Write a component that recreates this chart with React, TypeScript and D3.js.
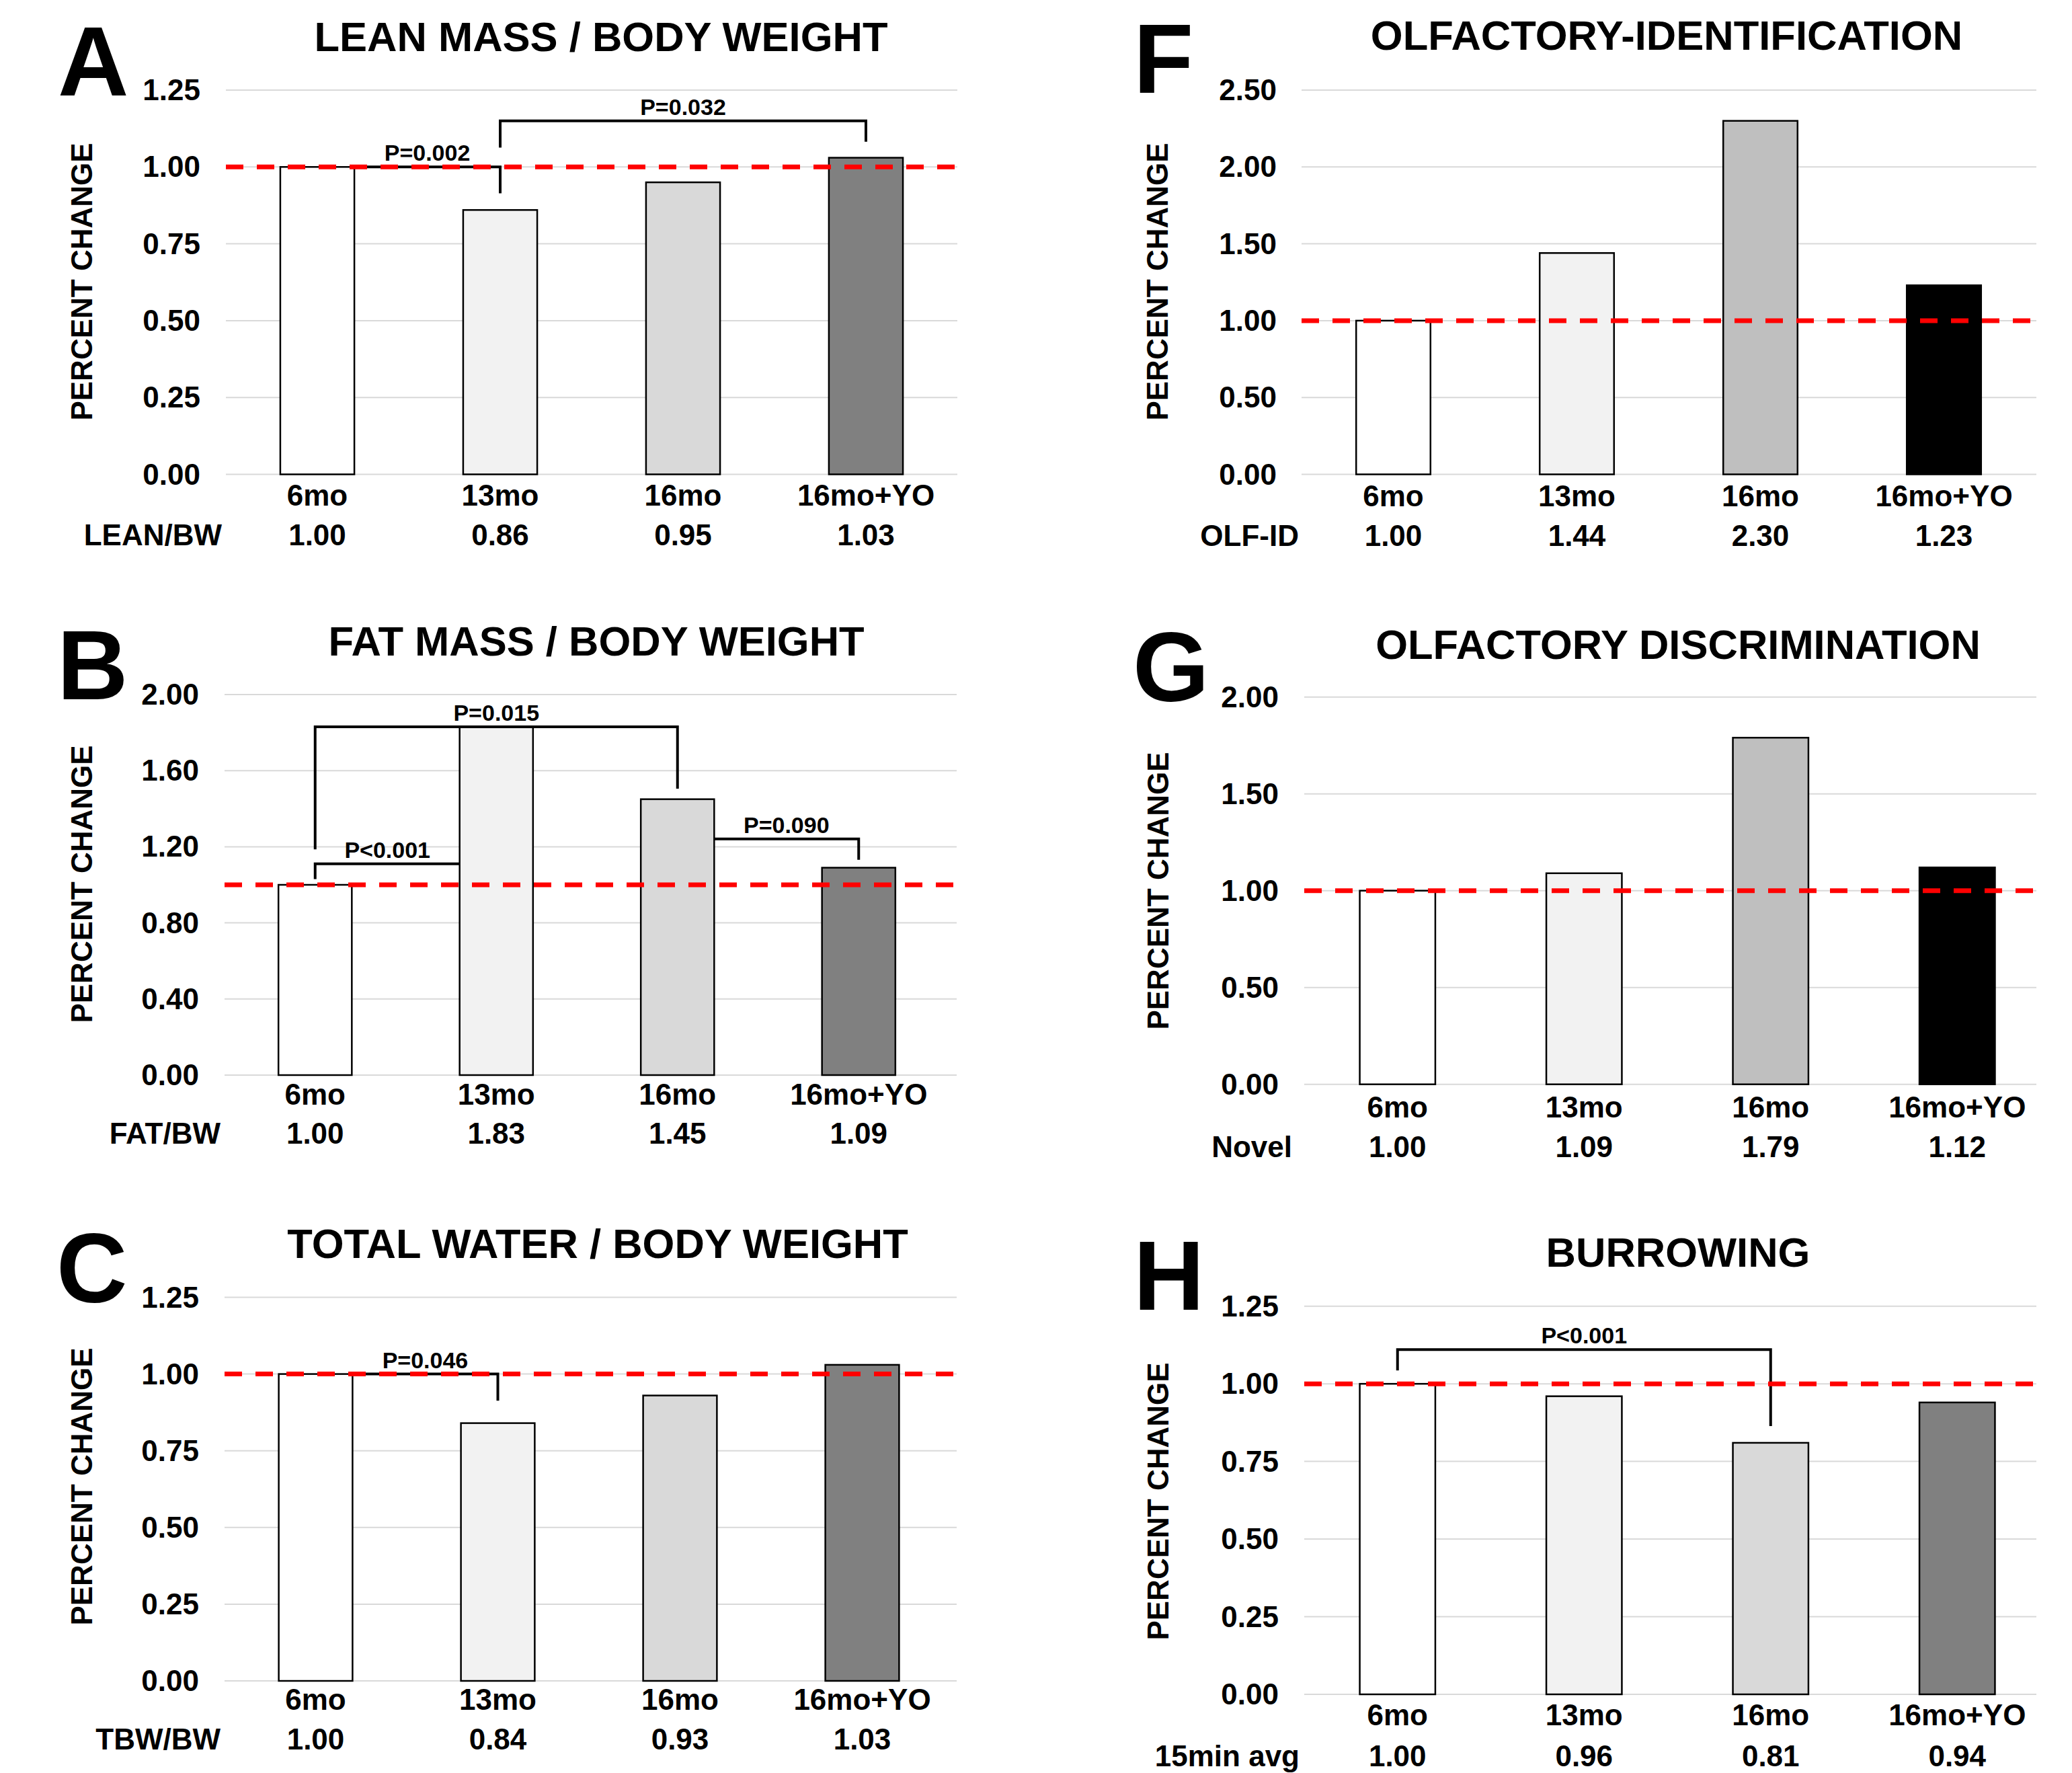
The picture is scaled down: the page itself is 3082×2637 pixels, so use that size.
import React from "react";
import * as d3 from "d3";

// groups and measured values (ratio to 6mo)
const groups = ["6mo", "13mo", "16mo", "16mo+YO"];
const leanBw = [1.0, 0.86, 0.95, 1.03];
const fatBw = [1.0, 1.83, 1.45, 1.09];
const tbwBw = [1.0, 0.84, 0.93, 1.03];
const olfId = [1.0, 1.44, 2.3, 1.23];
const novel = [1.0, 1.09, 1.79, 1.12];
const burrow = [1.0, 0.96, 0.81, 0.94];

const ticks125 = [0, 0.25, 0.5, 0.75, 1.0, 1.25];
const ticks200 = [0, 0.4, 0.8, 1.2, 1.6, 2.0];
const ticks250 = [0, 0.5, 1.0, 1.5, 2.0, 2.5];
const ticks200b = [0, 0.5, 1.0, 1.5, 2.0];

const bodyFills = ["#FFFFFF", "#F2F2F2", "#D9D9D9", "#808080"];
const olfFills = ["#FFFFFF", "#F2F2F2", "#BFBFBF", "#000000"];

// significance brackets: from/to = [group index, side], y = bar height, legs = where the legs end
const bracketsA = [
  { from: [0, "r"], to: [1, "c"], y: 1.0, legL: null, legR: 0.914, label: "P=0.002" },
  { from: [1, "c"], to: [3, "c"], y: 1.15, legL: 1.063, legR: 1.082, label: "P=0.032" },
];
const bracketsB = [
  { from: [0, "c"], to: [2, "c"], y: 1.83, legL: 1.186, legR: 1.505, label: "P=0.015" },
  { from: [0, "c"], to: [1, "l"], y: 1.11, legL: 1.03, legR: null, label: "P<0.001" },
  { from: [2, "r"], to: [3, "c"], y: 1.241, legL: null, legR: 1.132, label: "P=0.090" },
];
const bracketsC = [
  { from: [0, "r"], to: [1, "c"], y: 1.0, legL: null, legR: 0.913, label: "P=0.046" },
];
const bracketsH = [
  { from: [0, "c"], to: [2, "c"], y: 1.11, legL: 1.043, legR: 0.864, label: "P<0.001" },
];

const font = "'Liberation Sans', Arial, Helvetica, sans-serif";

const panels = [
  {
    letter: "A", title: "LEAN MASS / BODY WEIGHT", rowLabel: "LEAN/BW", values: leanBw, fills: bodyFills,
    ticks: ticks125, brackets: bracketsA,
    x0: 336, x1: 1424, gridEnd: 1424, y0: 705.5, yTop: 134, catDy: 46, valDy: 105,
    titleX: 894, titleY: 76, letterX: 86, letterY: 142, tickX: 298, ylabX: 121, ylabY: 419, rowX: 330,
  },
  {
    letter: "B", title: "FAT MASS / BODY WEIGHT", rowLabel: "FAT/BW", values: fatBw, fills: bodyFills,
    ticks: ticks200, brackets: bracketsB,
    x0: 334, x1: 1412, gridEnd: 1423, y0: 1599, yTop: 1033, catDy: 44, valDy: 102,
    titleX: 887, titleY: 975, letterX: 85, letterY: 1040, tickX: 296, ylabX: 121, ylabY: 1315, rowX: 328,
  },
  {
    letter: "C", title: "TOTAL WATER / BODY WEIGHT", rowLabel: "TBW/BW", values: tbwBw, fills: bodyFills,
    ticks: ticks125, brackets: bracketsC,
    x0: 334, x1: 1418, gridEnd: 1423, y0: 2500, yTop: 1929.5, catDy: 43, valDy: 102,
    titleX: 889, titleY: 1871, letterX: 84, letterY: 1937, tickX: 296, ylabX: 121, ylabY: 2211, rowX: 328,
  },
  {
    letter: "F", title: "OLFACTORY-IDENTIFICATION", rowLabel: "OLF-ID", values: olfId, fills: olfFills,
    ticks: ticks250, brackets: [],
    x0: 1936, x1: 3028, gridEnd: 3029, y0: 705.5, yTop: 134, catDy: 47, valDy: 106,
    titleX: 2479, titleY: 74, letterX: 1686, letterY: 138, tickX: 1899, ylabX: 1721, ylabY: 419, rowX: 1932,
  },
  {
    letter: "G", title: "OLFACTORY DISCRIMINATION", rowLabel: "Novel", values: novel, fills: olfFills,
    ticks: ticks200b, brackets: [],
    x0: 1940, x1: 3050, gridEnd: 3029, y0: 1612.7, yTop: 1036.7, catDy: 49, valDy: 108,
    titleX: 2496, titleY: 980, letterX: 1685, letterY: 1043, tickX: 1902, ylabX: 1722, ylabY: 1325, rowX: 1922,
  },
  {
    letter: "H", title: "BURROWING", rowLabel: "15min avg", values: burrow, fills: bodyFills,
    ticks: ticks125, brackets: bracketsH,
    x0: 1940, x1: 3050, gridEnd: 3029, y0: 2520, yTop: 1942.7, catDy: 46, valDy: 107,
    titleX: 2496, titleY: 1884, letterX: 1686, letterY: 1948, tickX: 1902, ylabX: 1722, ylabY: 2233, rowX: 1933,
  },
];

const Panel = ({ p }) => {
  const x = d3.scaleBand().domain(groups).range([p.x0, p.x1]).paddingInner(0.595).paddingOuter(0.2975);
  const top = p.ticks[p.ticks.length - 1];
  const y = d3.scaleLinear().domain([0, top]).range([p.y0, p.yTop]);
  const bw = x.bandwidth();
  const ax = ([i, side]) => {
    const left = x(groups[i]);
    return side === "l" ? left : side === "r" ? left + bw : left + bw / 2;
  };

  return (
    <g>
      {/* gridlines */}
      {p.ticks.map((t) => (
        <line key={"g" + t} x1={p.x0} x2={p.gridEnd} y1={y(t)} y2={y(t)} stroke="#D9D9D9" strokeWidth={2} />
      ))}
      {/* tick labels */}
      {p.ticks.map((t) => (
        <text key={"t" + t} x={p.tickX} y={y(t) + 15} textAnchor="end" fontSize={44} fontWeight="bold" fontFamily={font}>
          {t.toFixed(2)}
        </text>
      ))}
      {/* bars */}
      {p.values.map((v, i) => (
        <rect
          key={"b" + i}
          x={x(groups[i])}
          y={y(v)}
          width={bw}
          height={y(0) - y(v)}
          fill={p.fills[i]}
          stroke="#000"
          strokeWidth={2.5}
        />
      ))}
      {/* brackets */}
      {p.brackets.map((b, i) => {
        const xl = ax(b.from);
        const xr = ax(b.to);
        const yh = y(b.y);
        const yl = b.legL == null ? yh : y(b.legL);
        const yr = b.legR == null ? yh : y(b.legR);
        return (
          <g key={"k" + i}>
            <path d={`M${xl},${yl}V${yh}H${xr}V${yr}`} fill="none" stroke="#000" strokeWidth={4} />
            <text x={(xl + xr) / 2} y={yh - 9} textAnchor="middle" fontSize={34} fontWeight="bold" fontFamily={font}>
              {b.label}
            </text>
          </g>
        );
      })}
      {/* reference line at 1.0 */}
      <line x1={p.x0} x2={p.gridEnd} y1={y(1)} y2={y(1)} stroke="#FF0000" strokeWidth={7} strokeDasharray="26 20" />
      {/* category labels and value row */}
      {groups.map((g) => (
        <text key={"c" + g} x={x(g) + bw / 2} y={p.y0 + p.catDy} textAnchor="middle" fontSize={44} fontWeight="bold" fontFamily={font}>
          {g}
        </text>
      ))}
      {p.values.map((v, i) => (
        <text key={"v" + i} x={x(groups[i]) + bw / 2} y={p.y0 + p.valDy} textAnchor="middle" fontSize={44} fontWeight="bold" fontFamily={font}>
          {v.toFixed(2)}
        </text>
      ))}
      <text x={p.rowX} y={p.y0 + p.valDy} textAnchor="end" fontSize={44} fontWeight="bold" fontFamily={font}>
        {p.rowLabel}
      </text>
      {/* y axis title */}
      <text
        transform={`translate(${p.ylabX},${p.ylabY}) rotate(-90)`}
        dy="0.36em"
        textAnchor="middle"
        fontSize={44}
        fontWeight="bold"
        fontFamily={font}
      >
        PERCENT CHANGE
      </text>
      {/* chart title and panel letter */}
      <text x={p.titleX} y={p.titleY} textAnchor="middle" fontSize={61.5} fontWeight="bold" fontFamily={font}>
        {p.title}
      </text>
      <text x={p.letterX} y={p.letterY} fontSize={146} fontWeight="bold" fontFamily={font}>
        {p.letter}
      </text>
    </g>
  );
};

export default function App() {
  return (
    <svg
      width={3082}
      height={2637}
      style={{ position: "absolute", left: 0, top: 0, background: "#fff" }}
    >
      <rect width={3082} height={2637} fill="#fff" />
      {panels.map((p) => (
        <Panel key={p.letter} p={p} />
      ))}
    </svg>
  );
}
